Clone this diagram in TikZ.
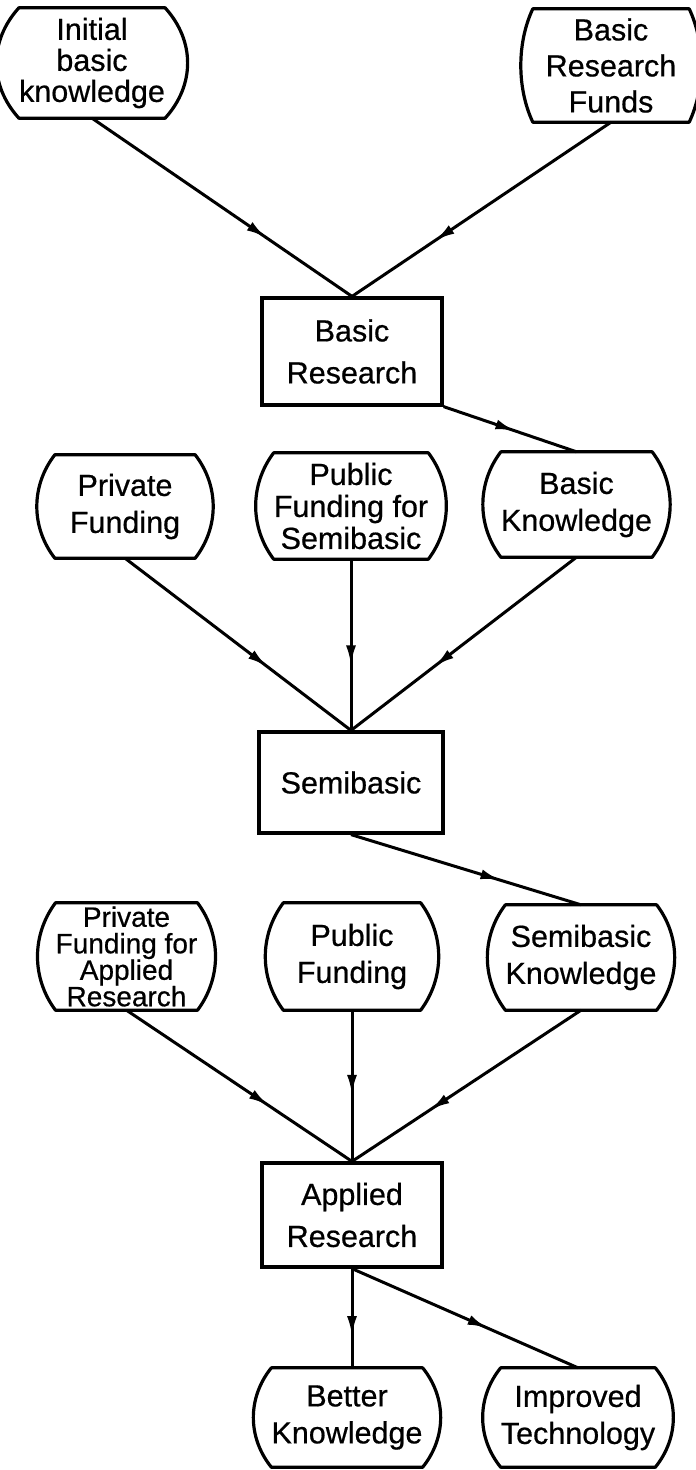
\documentclass[tikz,border=0pt]{standalone}
\usepackage{fontspec}
\setmainfont{Liberation Sans}[FakeBold=0.6]
\usetikzlibrary{calc,arrows.meta,decorations.markings}
\newcommand\barrelshape[2][24]{%
  \draw[shapeline] (#2.north west) -- (#2.north east)
    .. controls ($(#2.north east)!0.3!(#2.south east)+(#1,0)$) and ($(#2.north east)!0.7!(#2.south east)+(#1,0)$) .. (#2.south east)
    -- (#2.south west)
    .. controls ($(#2.south west)!0.3!(#2.north west)+(-#1,0)$) and ($(#2.south west)!0.7!(#2.north west)+(-#1,0)$) .. (#2.north west)
    -- cycle;}
\tikzset{
  shapeline/.style={line width=3.2pt, line join=round},
  barrel/.style={shape=rectangle, inner sep=0pt, align=center},
  boxnode/.style={shape=rectangle, draw, line width=3.2pt, inner sep=0pt, align=center},
  lbl/.style={font=\fontsize{30.5}{#1}\selectfont},
  conn/.style={line width=3pt},
  arr/.style={postaction={decorate}, decoration={markings, mark=at position #1 with {\arrow{Latex[length=20pt,width=10pt]}}}}
}
\begin{document}
\begin{tikzpicture}[x=1pt, y=-1pt]
\useasboundingbox (0,0) rectangle (696,1470);
% row 1
\node[barrel, minimum width=127pt, minimum height=110pt, lbl=31] (ini) at (92,63) {Initial\\basic\\knowledge};
\node[barrel, minimum width=156pt, minimum height=113pt, lbl=36] (brf) at (611,65.5) {Basic\\Research\\Funds};
\barrelshape[30]{ini}
\barrelshape[16]{brf}
% basic research
\node[boxnode, minimum width=180pt, minimum height=107pt, lbl=42] (br) at (352,351.5) {Basic\\Research};
% row 2
\node[barrel, minimum width=140pt, minimum height=103pt, lbl=37] (pf) at (125,506.5) {Private\\Funding};
\node[barrel, minimum width=137pt, minimum height=106pt, lbl=32] (pfs) at (351,506) {Public\\Funding for\\Semibasic};
\node[barrel, minimum width=137pt, minimum height=105pt, lbl=37] (bk) at (576.5,504.5) {Basic\\Knowledge};
\barrelshape{pf}
\barrelshape{pfs}
\barrelshape{bk}
% semibasic
\node[boxnode, minimum width=184pt, minimum height=101pt, lbl=37] (sb) at (351,782.5) {Semibasic};
% row 3
\node[barrel, minimum width=133pt, minimum height=107pt, font=\fontsize{28}{26.5}\selectfont] (pfar) at (126.5,956.5) {Private\\Funding for\\Applied\\Research};
\node[barrel, minimum width=137pt, minimum height=107pt, lbl=37] (pubf) at (352,956.5) {Public\\Funding};
\node[barrel, minimum width=132pt, minimum height=105pt, lbl=37] (sbk) at (581,957.5) {Semibasic\\Knowledge};
\barrelshape{pfar}
\barrelshape{pubf}
\barrelshape{sbk}
% applied research
\node[boxnode, minimum width=180pt, minimum height=104pt, lbl=42] (ar) at (352,1215) {Applied\\Research};
% row 4
\node[barrel, minimum width=143pt, minimum height=99pt, lbl=37] (bkn) at (347,1417.5) {Better\\Knowledge};
\node[barrel, minimum width=140pt, minimum height=99pt, lbl=37] (it) at (578,1417.5) {Improved\\Technology};
\barrelshape{bkn}
\barrelshape{it}
% connectors
\draw[conn, arr=0.67] (ini.south) -- (br.north);
\draw[conn, arr=0.68] (brf.south) -- (br.north);
\draw[conn, arr=0.54] (br.south east) -- (bk.north);
\draw[conn, arr=0.63] (pf.south) -- (sb.north);
\draw[conn, arr=0.62] (pfs.south) -- (sb.north);
\draw[conn, arr=0.63] (bk.south) -- (sb.north);
\draw[conn, arr=0.65] (sb.south) -- (sbk.north);
\draw[conn, arr=0.63] (pfar.south) -- (ar.north);
\draw[conn, arr=0.56] (pubf.south) -- (ar.north);
\draw[conn, arr=0.66] (sbk.south) -- (ar.north);
\draw[conn, arr=0.68] (ar.south) -- (ar.south |- bkn.north);
\draw[conn, arr=0.6] (ar.south) -- (it.north);
\end{tikzpicture}
\end{document}
